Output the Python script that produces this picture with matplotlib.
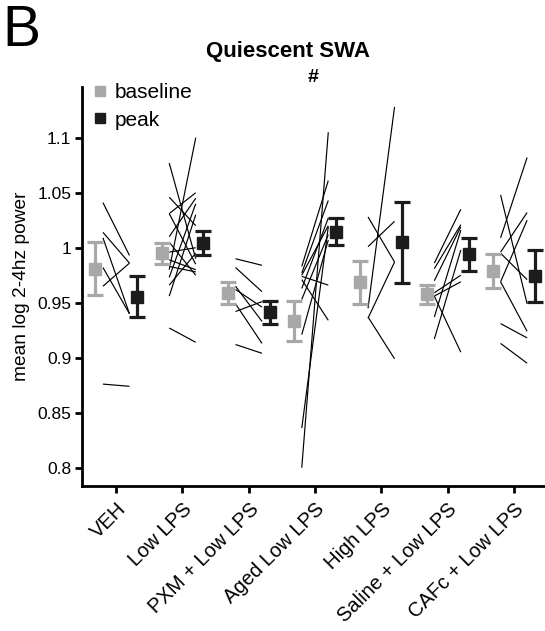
import numpy as np
import matplotlib
matplotlib.use("Agg")
import matplotlib.pyplot as plt
from matplotlib.lines import Line2D

plt.rcParams['font.family'] = ['Liberation Sans', 'DejaVu Sans']

# ---------- DATA ----------
groups = ["VEH", "Low LPS", "PXM + Low LPS", "Aged Low LPS",
          "High LPS", "Saline + Low LPS", "CAFc + Low LPS"]

base_mean = [0.981, 0.995, 0.9585, 0.9334, 0.9685, 0.9576, 0.9788]
base_err = [0.024, 0.0095, 0.010, 0.018, 0.0195, 0.0085, 0.0157]
peak_mean = [0.9555, 1.004, 0.9413, 1.0146, 1.0049, 0.994, 0.9743]
peak_err = [0.0185, 0.011, 0.0106, 0.012, 0.037, 0.015, 0.024]

# individual animals: baseline value, peak value
veh_base = [1.041, 1.014, 1.009, 0.982, 0.965, 0.876]
veh_peak = [0.993, 0.986, 0.940, 0.940, 0.986, 0.874]

low_base = [1.077, 0.980, 1.046, 1.031, 1.031, 1.010, 1.005,
            0.996, 0.989, 0.983, 0.973, 0.966, 0.956, 0.927]
low_peak = [0.990, 1.100, 1.020, 1.050, 0.985, 1.045, 0.975,
            1.000, 0.980, 0.978, 1.040, 0.995, 1.030, 0.914]

pxm_base = [0.990, 0.982, 0.965, 0.962, 0.942, 0.949, 0.912]
pxm_peak = [0.984, 0.960, 0.933, 0.946, 0.951, 0.913, 0.904]

aged_base = [0.800, 0.836, 0.983, 0.977, 0.974, 0.971, 0.963, 0.953, 0.921, 0.975]
aged_peak = [1.105, 1.019, 1.061, 1.043, 0.966, 0.934, 1.027, 1.012, 1.007, 1.020]

high_base = [0.945, 1.028, 1.001, 0.936, 0.937]
high_peak = [1.128, 0.987, 1.024, 0.987, 0.899]

sal_base = [0.986, 0.981, 0.970, 0.959, 0.956, 0.956, 0.937, 0.917]
sal_peak = [1.035, 1.021, 1.019, 0.975, 0.969, 0.905, 1.016, 0.998]

caf_base = [1.009, 1.048, 0.996, 0.995, 0.969, 0.969, 0.931, 0.913]
caf_peak = [1.082, 0.949, 1.032, 0.971, 1.025, 0.924, 0.918, 0.895]

subj_base = [veh_base, low_base, pxm_base, aged_base, high_base, sal_base, caf_base]
subj_peak = [veh_peak, low_peak, pxm_peak, aged_peak, high_peak, sal_peak, caf_peak]

yticks = [0.8, 0.85, 0.9, 0.95, 1.0, 1.05, 1.1]
ytick_labels = ["0.8", "0.85", "0.9", "0.95", "1", "1.05", "1.1"]
# ---------------------------

BASE_C = "#a8a8a8"
PEAK_C = "#1c1c1c"

fig = plt.figure(figsize=(5.45, 6.31), dpi=100)
ax = fig.add_axes([0.1512, 0.2304, 0.8488, 0.6322])

x = np.arange(len(groups))

for i in range(len(groups)):
    for b, p in zip(subj_base[i], subj_peak[i]):
        ax.plot([x[i] - 0.2, x[i] + 0.2], [b, p], color="black", lw=0.85,
                solid_capstyle="butt", zorder=2)

ax.errorbar(x - 0.316, base_mean, yerr=base_err, fmt="s", color=BASE_C,
            ms=8, elinewidth=2.3, capsize=5.5, capthick=2.3, zorder=3)
ax.errorbar(x + 0.316, peak_mean, yerr=peak_err, fmt="s", color=PEAK_C,
            ms=8, elinewidth=2.3, capsize=5.5, capthick=2.3, zorder=3)

ax.set_xlim(-0.51, 6.47)
ax.set_ylim(0.7837, 1.1464)
ax.set_xticks(x)
ax.set_xticklabels(groups, rotation=45, ha="right", rotation_mode="anchor",
                   fontsize=14.5)
ax.set_yticks(yticks)
ax.set_yticklabels(ytick_labels, fontsize=12.5)
ax.set_ylabel("mean log 2-4hz power", fontsize=13.8, labelpad=5)

for side in ["top", "right"]:
    ax.spines[side].set_visible(False)
for side in ["left", "bottom"]:
    ax.spines[side].set_linewidth(2)
ax.tick_params(axis="both", width=2, length=5, direction="out", pad=3)
ax.tick_params(axis="x", pad=5)

handles = [Line2D([], [], marker="s", ls="none", color=BASE_C, ms=7),
           Line2D([], [], marker="s", ls="none", color=PEAK_C, ms=7)]
ax.legend(handles, ["baseline", "peak"], loc="upper left",
          bbox_to_anchor=(0.0, 1.04), frameon=False, fontsize=15,
          handlelength=0.5, handletextpad=0.45, labelspacing=0.4,
          borderaxespad=0.2)

fig.text(0.528, 0.919, "Quiescent SWA", ha="center", va="center",
         fontsize=16, fontweight="bold")
fig.text(0.575, 0.877, "#", ha="center", va="center",
         fontsize=14, fontweight="bold")
fig.text(0.005, 0.951, "B", ha="left", va="center", fontsize=41)

fig.savefig("out.png", dpi=100)
